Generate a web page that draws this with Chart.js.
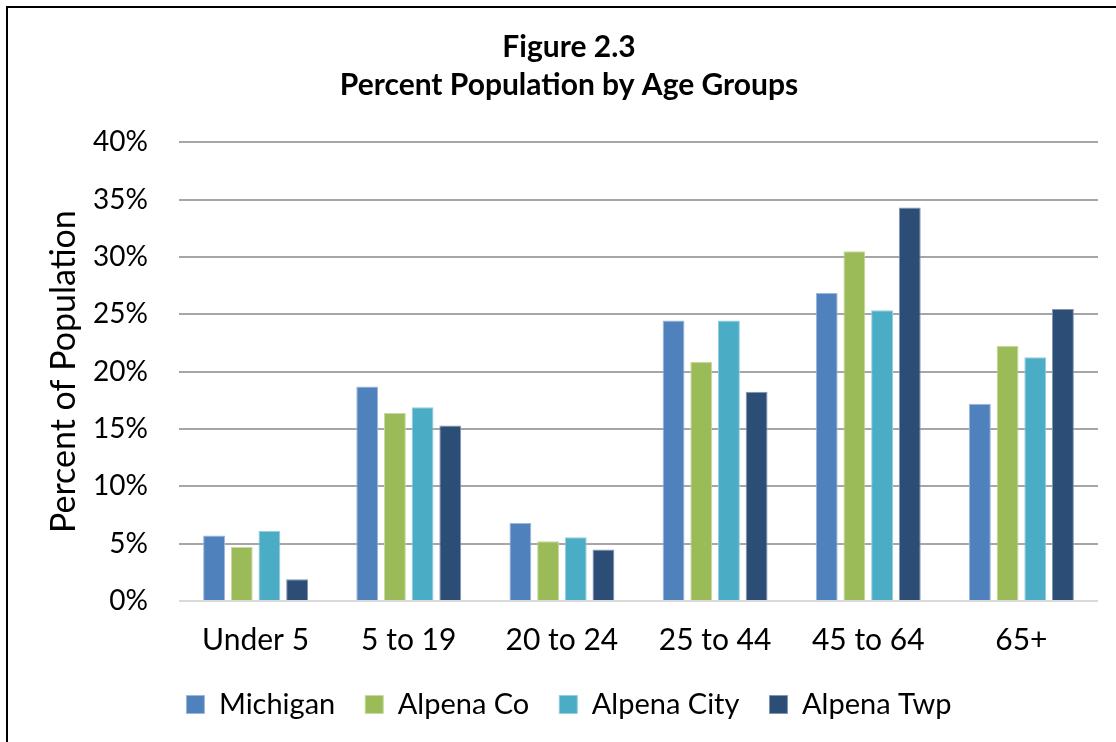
<!DOCTYPE html>
<html>
<head>
<meta charset="utf-8">
<script src="https://cdn.jsdelivr.net/npm/chart.js@4.4.1/dist/chart.umd.min.js"></script>
<style>
  html, body { margin: 0; padding: 0; background: #fff; overflow: hidden; }
  #wrap { position: relative; width: 1116px; height: 742px; }
  #frame { position: absolute; left: 6px; top: 6px; width: 1200px; height: 900px; border: 2px solid #000; pointer-events: none; }
  canvas { position: absolute; left: 0; top: 0; }
</style>
</head>
<body>
<div id="wrap">
  <canvas id="c" width="1116" height="742"></canvas>
  <div id="frame"></div>
</div>
<script>
const categories = ['Under 5', '5 to 19', '20 to 24', '25 to 44', '45 to 64', '65+'];
const michigan   = [5.7, 18.7, 6.8, 24.45, 26.85, 17.2];
const alpenaCo   = [4.7, 16.4, 5.2, 20.85, 30.5, 22.25];
const alpenaCity = [6.1, 16.9, 5.55, 24.45, 25.35, 21.25];
const alpenaTwp  = [1.9, 15.3, 4.5, 18.25, 34.3, 25.45];
const seriesNames = ['Michigan', 'Alpena Co', 'Alpena City', 'Alpena Twp'];
const titleLines = ['Figure 2.3', 'Percent Population by Age Groups'];
const yAxisTitle = 'Percent of Population';

const FONT = 'Lato, Carlito, "Noto Sans", sans-serif';
const colors = ['#4F81BD', '#9BBB59', '#4BACC6', '#2C4D75'];
const borders = ['#9DB6DB', '#C6D99E', '#93CEDE', '#8296B0'];
const values = [michigan, alpenaCo, alpenaCity, alpenaTwp];

new Chart(document.getElementById('c'), {
  type: 'bar',
  data: {
    labels: categories,
    datasets: seriesNames.map((n, i) => ({
      label: n,
      data: values[i],
      backgroundColor: colors[i],
      borderColor: borders[i],
      borderWidth: 1,
      categoryPercentage: 0.723,
      barPercentage: 0.79
    }))
  },
  options: {
    responsive: false,
    animation: false,
    devicePixelRatio: 1,
    layout: { padding: { left: 40, right: 18, top: 28, bottom: 13 } },
    plugins: {
      title: {
        display: true,
        text: titleLines,
        color: '#000',
        font: { family: FONT, size: 30, weight: 'bold', lineHeight: 1.27 },
        padding: { top: 0, bottom: 38 }
      },
      legend: {
        position: 'bottom',
        labels: {
          color: '#000',
          font: { family: FONT, size: 29 },
          boxWidth: 18,
          boxHeight: 18,
          padding: 30
        }
      },
      tooltip: { enabled: false }
    },
    scales: {
      x: {
        afterFit: (s) => { s.height = 59; },
        grid: { display: false, drawTicks: false },
        border: { display: false },
        ticks: { color: '#000', font: { family: FONT, size: 30 }, padding: 21 }
      },
      y: {
        min: 0, max: 40,
        afterFit: (s) => { s.width = 139; },
        grid: {
          drawTicks: false,
          color: (ctx) => ctx.tick && ctx.tick.value === 0 ? '#D9D9D9' : '#A6A6A6',
          lineWidth: 2
        },
        border: { display: false },
        ticks: {
          stepSize: 5,
          color: '#000',
          padding: 31,
          font: { family: FONT, size: 28 },
          callback: (v) => v + '%'
        },
        title: {
          display: true,
          text: yAxisTitle,
          color: '#000',
          font: { family: FONT, size: 34 },
          padding: { top: 4, bottom: 0 }
        }
      }
    }
  }
});
</script>
</body>
</html>
